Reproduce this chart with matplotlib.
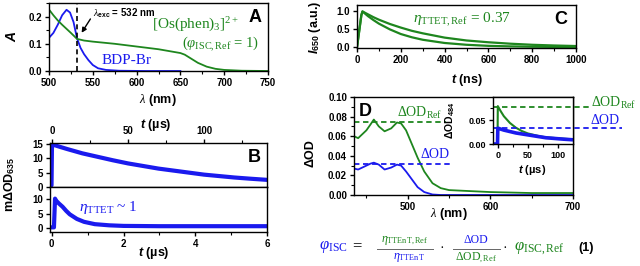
import matplotlib
matplotlib.use("Agg")
import matplotlib.pyplot as plt
from matplotlib.lines import Line2D
from matplotlib.ticker import MultipleLocator

W, H = 640, 266
GREEN = "#1e861e"
BLUE = "#1a1aee"

plt.rcParams.update({
    "font.family": ["Liberation Sans", "DejaVu Sans"],
    "font.weight": "bold",
    "font.size": 7,
    "axes.linewidth": 1.0,
    "xtick.major.size": 3, "ytick.major.size": 3,
    "xtick.minor.size": 2, "ytick.minor.size": 2,
    "xtick.major.width": 1, "ytick.major.width": 1,
    "xtick.minor.width": 0.8, "ytick.minor.width": 0.8,
    "xtick.major.pad": 2, "ytick.major.pad": 2,
    "mathtext.fontset": "custom",
    "mathtext.rm": "Liberation Serif:normal",
    "mathtext.it": "Liberation Serif:italic:normal",
    "mathtext.bf": "Liberation Sans:bold:italic",
    "mathtext.sf": "Liberation Sans:bold",
})

# Panel A: absorption spectra
bdp_wl = [500, 505, 510, 515, 520, 524, 528, 532, 536, 540, 545, 550, 556, 565, 580, 610, 650]
bdp_abs = [0.122, 0.14, 0.17, 0.205, 0.225, 0.215, 0.18, 0.12, 0.085, 0.062, 0.04, 0.022, 0.01, 0.004, 0.001, 0.0, 0.0]
os_wl = [500, 505, 510, 515, 520, 525, 532, 540, 550, 575, 600, 625, 650, 655, 660, 670, 680, 690, 700, 720, 750]
os_abs = [0.226, 0.205, 0.186, 0.17, 0.155, 0.14, 0.118, 0.112, 0.108, 0.1, 0.09, 0.08, 0.066, 0.06, 0.05, 0.03, 0.016, 0.008, 0.004, 0.001, 0.0]

# Panel B: transient absorption at 635 nm
b_long_t = [-1.3, -0.3, 0, 2, 5, 10, 20, 30, 40, 50, 60, 70, 80, 90, 100, 110, 120, 130, 141]
b_long_od = [0.6, 0.6, 14.5, 14.5, 14.0, 13.2, 11.7, 10.5, 9.3, 8.2, 7.3, 6.4, 5.7, 5.0, 4.3, 3.8, 3.3, 2.9, 2.5]
b_short_t = [-0.05, 0.06, 0.09, 0.12, 0.2, 0.3, 0.4, 0.5, 0.7, 0.9, 1.2, 1.6, 2, 3, 4, 5, 6]
b_short_od = [0.3, 0.3, 10.2, 9.5, 8.5, 7.4, 6.0, 4.8, 3.2, 2.2, 1.4, 1.0, 0.8, 0.7, 0.7, 0.7, 0.7]

# Panel C: phosphorescence decays at 650 nm
c_t = [0, 10, 20, 25, 50, 75, 100, 150, 200, 250, 300, 400, 500, 600, 700, 800, 900, 1000]
c_ref = [0.0, 0.45, 0.9, 1.0, 0.92, 0.84, 0.77, 0.65, 0.55, 0.46, 0.39, 0.27, 0.19, 0.14, 0.1, 0.07, 0.05, 0.035]
c_quench = [0.0, 0.45, 0.9, 1.0, 0.87, 0.76, 0.66, 0.5, 0.37, 0.28, 0.21, 0.12, 0.07, 0.04, 0.025, 0.015, 0.01, 0.01]

# Panel D: transient spectra
d_wl = [435, 440, 445, 450, 455, 459, 465, 472, 480, 487, 492, 498, 505, 512, 520, 530, 540, 550, 575, 600, 650, 700]
d_ref = [0.06, 0.058, 0.062, 0.066, 0.072, 0.077, 0.07, 0.065, 0.068, 0.074, 0.073, 0.066, 0.052, 0.038, 0.024, 0.012, 0.007, 0.005, 0.004, 0.003, 0.002, 0.002]
d_bdp = [0.027, 0.026, 0.028, 0.03, 0.032, 0.033, 0.031, 0.026, 0.028, 0.031, 0.03, 0.024, 0.016, 0.008, 0.003, 0.0005, 0.0, 0.0, 0.0, 0.0, 0.0, 0.0]
od_ref_level = 0.075
od_level = 0.0316

# Panel D inset: kinetics at 484 nm
ins_t = [-8, -0.5, 0, 5, 10, 20, 30, 40, 50, 60, 70, 80, 90, 100, 110, 122]
ins_ref = [0, 0, 0.079, 0.068, 0.058, 0.044, 0.034, 0.027, 0.022, 0.019, 0.016, 0.014, 0.013, 0.012, 0.011, 0.01]
ins_bdp = [0, 0, 0.033, 0.031, 0.029, 0.026, 0.023, 0.021, 0.019, 0.017, 0.015, 0.013, 0.012, 0.011, 0.010, 0.009]
ins_ref_level = 0.077
ins_level = 0.033

fig = plt.figure(figsize=(6.4, 2.66), dpi=100)


def box(x0, y0, x1, y1):
    return [x0 / W, 1 - y1 / H, (x1 - x0) / W, (y1 - y0) / H]


def put(x, y, s, **kw):
    kw.setdefault("ha", "center")
    kw.setdefault("va", "center")
    return fig.text(x / W, 1 - y / H, s, **kw)


def serif(x, y, s, color, size=10, **kw):
    return put(x, y, s, color=color, fontsize=size, family="Liberation Serif",
               fontweight="normal", **kw)


def hline(x0, x1, y, color="0.4"):
    fig.add_artist(Line2D([x0 / W, x1 / W], [1 - y / H, 1 - y / H],
                          color=color, lw=0.7, transform=fig.transFigure))


def ticks(ax, xmaj, xmin, ymaj, ymin):
    ax.xaxis.set_major_locator(MultipleLocator(xmaj))
    ax.xaxis.set_minor_locator(MultipleLocator(xmin))
    ax.yaxis.set_major_locator(MultipleLocator(ymaj))
    if ymin:
        ax.yaxis.set_minor_locator(MultipleLocator(ymin))
    ax.tick_params(which="both", direction="out")


# ---- A ----
axA = fig.add_axes(box(49, 3, 268, 71))
axA.plot(bdp_wl, bdp_abs, color=BLUE, lw=1.3)
axA.plot(os_wl, os_abs, color=GREEN, lw=1.3)
axA.axvline(532, color="k", ls="--", lw=1.2, dashes=(3, 2))
axA.set_xlim(500, 750)
axA.set_ylim(0, 0.25)
ticks(axA, 50, 25, 0.1, 0.05)
axA.yaxis.set_major_formatter(lambda v, p: f"{v:.1f}")
axA.annotate("", xy=(535.5, 0.132), xytext=(549, 0.2),
             arrowprops=dict(arrowstyle="-|>", color="k", lw=1.0, mutation_scale=7))
put(93, 13, "$\\lambda_{\\mathsf{exc}}$ = 532 nm", ha="left", fontsize=7)
serif(196, 25, "[Os(phen)$_3$]$^{2+}$", GREEN, 11)
serif(221, 44, "($\\varphi_{\\mathrm{ISC,Ref}}$ = 1)", GREEN, 10.5)
serif(127, 60, "BDP-Br", BLUE, 11)
put(255, 17, "A", fontsize=13)
put(12, 36, "$\\mathbf{A}$", fontsize=10, rotation=90)
put(158, 100, "$\\lambda$ (nm)", fontsize=9)

# ---- B ----
axB1 = fig.add_axes(box(50, 143, 267, 187))
axB1.plot(b_long_t, b_long_od, color=BLUE, lw=3)
axB1.set_xlim(-1.3, 141.4)
axB1.set_ylim(0, 15.3)
axB1.xaxis.tick_top()
ticks(axB1, 50, 25, 5, None)
axB2 = fig.add_axes(box(50, 187, 267, 232))
axB2.plot(b_short_t, b_short_od, color=BLUE, lw=3)
axB2.set_xlim(-0.05, 6.0)
axB2.set_ylim(-1.3, 14.2)
ticks(axB2, 2, 1, 5, None)
put(254, 157, "B", fontsize=13)
serif(108, 208, "$\\eta_{\\mathrm{TTET}}$ ~ 1", BLUE, 11)
put(10, 184, "m\u0394OD$_{\\mathsf{635}}$", fontsize=9, rotation=90)
put(156, 125, "$\\mathbf{t}$ (\u00b5s)", fontsize=9)
put(154, 253, "$\\mathbf{t}$ (\u00b5s)", fontsize=9)

# ---- C ----
axC = fig.add_axes(box(357, 5, 576, 48))
axC.plot(c_t, c_ref, color=GREEN, lw=1.6)
axC.plot(c_t, c_quench, color=GREEN, lw=1.6)
axC.set_xlim(0, 1000)
axC.set_ylim(-0.02, 1.18)
ticks(axC, 200, 100, 0.5, None)
axC.yaxis.set_major_formatter(lambda v, p: f"{v:.1f}")
serif(462, 20, "$\\eta_{\\mathrm{TTET,Ref}}$ = 0.37", GREEN, 11)
put(561, 20, "C", fontsize=13)
put(315, 27, "$\\mathbf{I}_{\\mathsf{650}}$ (a.u.)", fontsize=9, rotation=90)
put(467, 80, "$\\mathbf{t}$ (ns)", fontsize=9)

# ---- D ----
axD = fig.add_axes(box(354, 97, 573, 195))
axD.plot(d_wl, d_ref, color=GREEN, lw=1.3)
axD.plot(d_wl, d_bdp, color=BLUE, lw=1.3)
axD.plot([435, 546], [od_ref_level] * 2, color=GREEN, ls="--", dashes=(3, 2), lw=1.3)
axD.plot([435, 552], [od_level] * 2, color=BLUE, ls="--", dashes=(3, 2), lw=1.3)
axD.set_xlim(435, 700)
axD.set_ylim(0, 0.10)
ticks(axD, 100, 50, 0.02, 0.01)
axD.yaxis.set_major_formatter(lambda v, p: f"{v:.2f}")
axD.xaxis.set_major_formatter(lambda v, p: "" if v < 450 else f"{v:.0f}")
put(365, 112, "D", fontsize=13)
serif(420, 113, "\u0394OD$_{\\mathrm{Ref}}$", GREEN, 10)
serif(435, 154, "\u0394OD", BLUE, 10)
put(310, 153, "\u0394OD", fontsize=9, rotation=90)
put(449, 214, "$\\lambda$ (nm)", fontsize=9)

axI = fig.add_axes(box(493, 97, 573, 144))
axI.plot(ins_t, ins_ref, color=GREEN, lw=1.5)
axI.plot(ins_t, ins_bdp, color=BLUE, lw=2.6)
axI.plot([-8, 153], [ins_ref_level] * 2, color=GREEN, ls="--", dashes=(3, 2), lw=1.3, clip_on=False)
axI.plot([-8, 207], [ins_level] * 2, color=BLUE, ls="--", dashes=(3, 2), lw=1.3, clip_on=False)
axI.set_xlim(-8, 125)
axI.set_ylim(0, 0.098)
ticks(axI, 50, 25, 0.05, 0.025)
axI.tick_params(labelsize=6.5)
axI.yaxis.set_major_formatter(lambda v, p: f"{v:.2f}")
serif(614, 103, "\u0394OD$_{\\mathrm{Ref}}$", GREEN, 10)
serif(605, 121, "\u0394OD", BLUE, 10)
put(450, 120, "\u0394OD$_{\\mathsf{484}}$", fontsize=7.5, rotation=90)
put(532, 170, "$\\mathbf{t}$ (\u00b5s)", fontsize=8)

# ---- equation ----
serif(333, 247, "$\\varphi_{\\mathrm{ISC}}$", BLUE, 12)
serif(357, 246, "=", "k", 12)
serif(405, 241, "$\\eta_{\\mathrm{TTEnT,Ref}}$", GREEN, 8.5)
hline(377, 433, 249)
serif(409, 258, "$\\eta_{\\mathrm{TTEnT}}$", BLUE, 8.5)
serif(442, 249, "\u00b7", "k", 10)
serif(476, 240, "\u0394OD", BLUE, 8.5)
hline(453, 500, 249)
serif(476, 258, "\u0394OD$_{,\\mathrm{Ref}}$", GREEN, 8.5)
serif(505, 249, "\u00b7", "k", 10)
serif(539, 249, "$\\varphi_{\\mathrm{ISC,Ref}}$", GREEN, 12)
put(586, 248, "(1)", fontsize=9)

fig.savefig("out.png", dpi=100)
